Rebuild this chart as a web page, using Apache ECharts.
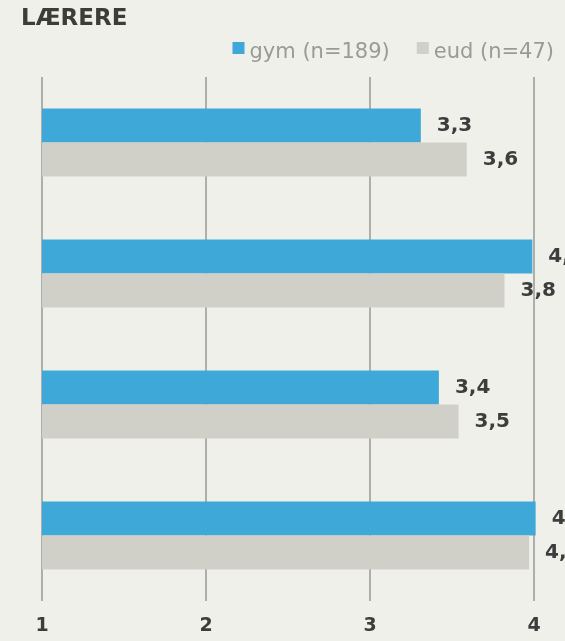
<!DOCTYPE html>
<html>
<head>
<meta charset="utf-8">
<style>
  html, body { margin: 0; padding: 0; background: #f0f0eb; }
  #chart { width: 565px; height: 641px; }
</style>
<script src="https://cdn.jsdelivr.net/npm/echarts@6/dist/echarts.min.js"></script>
</head>
<body>
<div id="chart"></div>
<script>
// Mean scores (scale 1–5) for teachers, split by school type
const categories = ['Udsagn 1', 'Udsagn 2', 'Udsagn 3', 'Udsagn 4'];
const gymValues = [3.31, 3.99, 3.42, 4.01];
const eudValues = [3.59, 3.82, 3.54, 3.97];
const seriesNames = ['gym (n=189)', 'eud (n=47)'];
const xTicks = [1, 2, 3, 4, 5];

const FONT = '"DejaVu Sans", sans-serif';
const fmt = v => v.toFixed(1).replace('.', ',');

const chart = echarts.init(document.getElementById('chart'));

const valueLabel = {
  show: true,
  position: 'right',
  distance: 16,
  fontFamily: FONT,
  fontWeight: 'bold',
  fontSize: 20,
  color: '#3d3d3d',
  formatter: p => fmt(p.value)
};

chart.setOption({
  backgroundColor: '#f0f0eb',
  animation: false,
  title: {
    text: 'LÆRERE',
    left: 16,
    top: 3,
    textStyle: { fontFamily: FONT, fontWeight: 'bold', fontSize: 23, color: '#3c3c3a' }
  },
  legend: {
    right: 6,
    top: 37,
    itemWidth: 12,
    itemHeight: 12,
    itemGap: 27,
    icon: 'rect',
    formatter: name => '{t|' + name + '}',
    textStyle: {
      fontFamily: FONT, fontSize: 21, color: '#9a9a96',
      rich: { t: { fontFamily: FONT, fontSize: 21, color: '#9a9a96', padding: [10, 0, 0, 0] } }
    },
    data: seriesNames
  },
  // the scale runs to 5; the plot extends past the right edge of the page
  grid: { left: 42, right: -133, top: 77, bottom: 40, containLabel: false, outerBoundsMode: 'none' },
  xAxis: {
    type: 'value',
    min: xTicks[0],
    max: xTicks[xTicks.length - 1],
    interval: 1,
    axisLine: { show: false },
    axisTick: { show: false },
    splitLine: { show: true, lineStyle: { color: '#999999', width: 1.5 } },
    axisLabel: {
      margin: 16,
      fontFamily: FONT,
      fontWeight: 'bold',
      fontSize: 19,
      color: '#3d3d3d',
      formatter: v => String(v)
    }
  },
  yAxis: {
    type: 'category',
    inverse: true,
    data: categories,
    axisLine: { show: false },
    axisTick: { show: false },
    axisLabel: { show: false }
  },
  series: [
    {
      name: seriesNames[0],
      type: 'bar',
      data: gymValues,
      barWidth: 34,
      barGap: '0%',
      itemStyle: { color: '#3ea9d8' },
      label: valueLabel
    },
    {
      name: seriesNames[1],
      type: 'bar',
      data: eudValues,
      barWidth: 34,
      barGap: '0%',
      itemStyle: { color: '#d1d0c8' },
      label: valueLabel
    }
  ]
});
</script>
</body>
</html>
